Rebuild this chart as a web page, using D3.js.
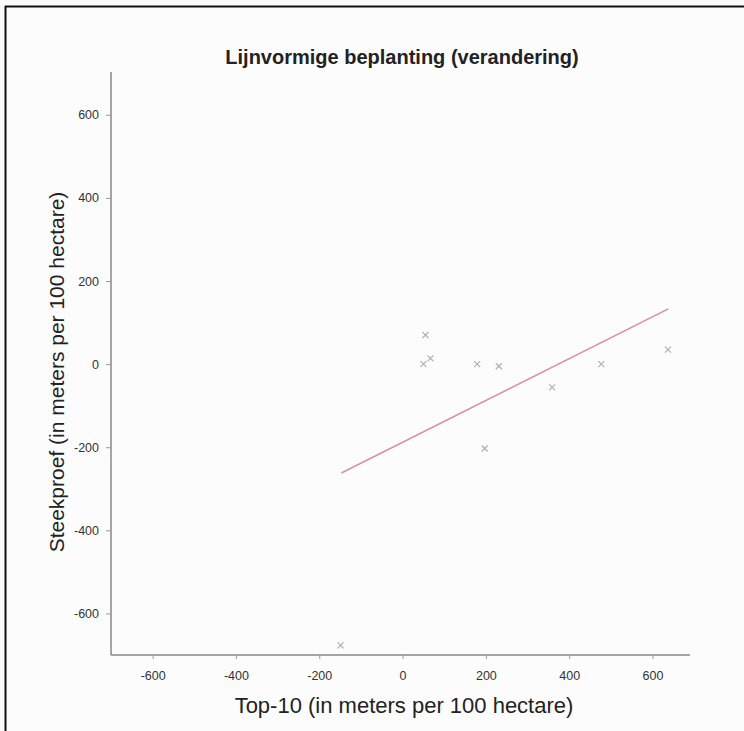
<!DOCTYPE html>
<html>
<head>
<meta charset="utf-8">
<script src="https://cdn.jsdelivr.net/npm/d3@7"></script>
<style>
  html, body { margin: 0; padding: 0; background: #fdfcfc; }
  svg { display: block; }
</style>
</head>
<body>
<script>
// Observations: Top-10 (x) vs Steekproef (y), meters per 100 hectare
const top10 = [55, 50, 67, 179, 231, 359, 477, 637, 197, -149];
const steekproef = [70, 0, 14, 0, -5, -56, 0, 35, -203, -677];
// Fitted trend line end points
const fitX = [-147, 638];
const fitY = [-262, 133];
// Axis ticks
const xTicks = [-600, -400, -200, 0, 200, 400, 600];
const yTicks = [600, 400, 200, 0, -200, -400, -600];

const W = 744, H = 731;
const svg = d3.select("body").append("svg").attr("width", W).attr("height", H);

// Outer frame (top and left edges)
svg.append("line").attr("x1", 5).attr("x2", W).attr("y1", 6.5).attr("y2", 6.5)
  .attr("stroke", "#111").attr("stroke-width", 2);
svg.append("line").attr("x1", 5.5).attr("x2", 5.5).attr("y1", 6).attr("y2", H)
  .attr("stroke", "#111").attr("stroke-width", 2);

const mLeft = 111, mRight = 690, mTop = 72, mBottom = 655;
const x = d3.scaleLinear().domain([-700, 690]).range([mLeft, mRight]);
const y = d3.scaleLinear().domain([-700, 703]).range([mBottom, mTop]);

const font = "Liberation Sans, Arial, sans-serif";
const fmt = d => String(d); // plain hyphen-minus for negatives

// X axis
const gx = svg.append("g").attr("transform", `translate(0,${mBottom})`)
  .call(d3.axisBottom(x).tickValues(xTicks).tickSize(4).tickPadding(12).tickFormat(fmt));
gx.select(".domain").attr("stroke", "#888").attr("stroke-width", 1.5).attr("d", `M${mLeft},0H${mRight}`);
gx.selectAll(".tick line").attr("stroke", "#999");
gx.selectAll(".tick text").attr("fill", "#333").style("font", `12.5px ${font}`);

// Y axis
const gy = svg.append("g").attr("transform", `translate(${mLeft},0)`)
  .call(d3.axisLeft(y).tickValues(yTicks).tickSize(5).tickPadding(7).tickFormat(fmt));
gy.select(".domain").attr("stroke", "#888").attr("stroke-width", 1.5).attr("d", `M0,${mTop}V${mBottom}`);
gy.selectAll(".tick line").attr("stroke", "#999");
gy.selectAll(".tick text").attr("fill", "#333").style("font", `12.5px ${font}`);

// Trend line
const fit = fitX.map((d, i) => [d, fitY[i]]);
svg.append("path").datum(fit)
  .attr("d", d3.line().x(d => x(d[0])).y(d => y(d[1])))
  .attr("stroke", "#d7919d").attr("stroke-width", 1.5).attr("fill", "none");

// Cross markers
const pts = top10.map((d, i) => [d, steekproef[i]]);
const s = 3;
svg.append("g").selectAll("path").data(pts).join("path")
  .attr("d", d => {
    const cx = x(d[0]), cy = y(d[1]);
    return `M${cx - s},${cy - s}L${cx + s},${cy + s}M${cx - s},${cy + s}L${cx + s},${cy - s}`;
  })
  .attr("stroke", "#b0b0b0").attr("stroke-width", 1.2).attr("fill", "none");

// Title and axis titles
svg.append("text").attr("x", 402).attr("y", 64).attr("text-anchor", "middle")
  .style("font", `bold 20px ${font}`).attr("fill", "#222")
  .text("Lijnvormige beplanting (verandering)");
svg.append("text").attr("x", 404).attr("y", 713).attr("text-anchor", "middle")
  .style("font", `22px ${font}`).attr("fill", "#222")
  .text("Top-10 (in meters per 100 hectare)");
svg.append("text").attr("transform", "translate(64,372) rotate(-90)").attr("text-anchor", "middle")
  .style("font", `21px ${font}`).attr("fill", "#222")
  .text("Steekproef (in meters per 100 hectare)");
</script>
</body>
</html>
